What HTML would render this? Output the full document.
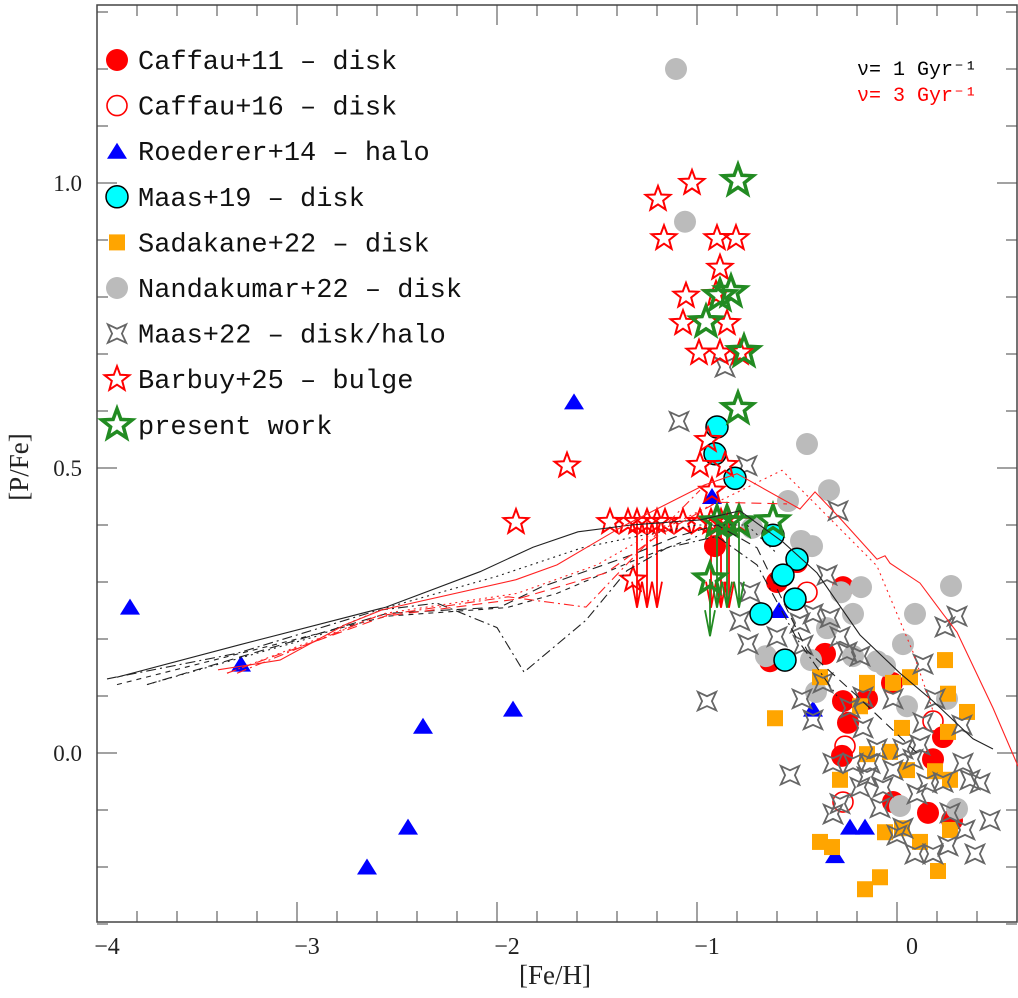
<!DOCTYPE html>
<html><head><meta charset="utf-8"><style>
body{margin:0;background:#fff}
svg{display:block}
text{font-family:"Liberation Serif",serif;fill:#222}
.leg{font-family:"Liberation Mono",monospace;font-size:27px;fill:#111}
</style></head><body>
<svg id="chart" width="1018" height="998" viewBox="0 0 1018 998" xmlns="http://www.w3.org/2000/svg">
<g id="axes"></g>
<g id="marks"></g>
<g id="models"></g>
<g id="legend"></g>
<text x="857" y="75" style="font-family:'Liberation Mono',monospace;font-size:20px;fill:#000">ν= 1 Gyr⁻¹</text>
<text x="857" y="101" style="font-family:'Liberation Mono',monospace;font-size:20px;fill:#f00">ν= 3 Gyr⁻¹</text>
<text x="555" y="984" text-anchor="middle" font-size="27">[Fe/H]</text>
<text transform="translate(28,467) rotate(-90)" text-anchor="middle" font-size="27">[P/Fe]</text>
</svg>
<script>
const xTicks=[-4,-3,-2,-1,0];
const xTickLabels=["−4","−3","−2","−1","0"];
const yTicks=[0,0.5,1.0];
const yTickLabels=["0.0","0.5","1.0"];
const caffau11=[[-0.91,0.363],[-0.60,0.300],[-0.27,0.291],[-0.36,0.174],[-0.635,0.161],[-0.025,0.123],[-0.27,0.091],[-0.245,0.053],[-0.15,0.095],[0.23,0.028],[0.18,-0.011],[-0.275,-0.005],[-0.02,-0.086],[0.155,-0.105],[0.275,-0.118],[-0.50,0.335]];
const caffau16=[[-0.45,0.282],[-0.26,0.012],[-0.27,-0.086],[0.18,0.056]];
const roederer=[[-3.835,0.256],[-3.28,0.156],[-2.37,0.047],[-1.92,0.077],[-1.615,0.616],[-2.445,-0.13],[-2.65,-0.2],[-0.925,0.45],[-0.59,0.25],[-0.42,0.077],[-0.235,-0.13],[-0.16,-0.13],[-0.31,-0.18]];
const nandakumar=[[-0.45,0.542],[-0.34,0.461],[-0.545,0.442],[-0.48,0.372],[-0.425,0.363],[-0.725,0.395],[-0.18,0.291],[0.27,0.293],[-0.28,0.282],[-0.22,0.244],[0.09,0.244],[0.03,0.191],[-0.655,0.170],[-0.43,0.163],[-0.22,0.170],[-0.10,0.161],[-0.06,0.153],[0.05,0.082],[0.25,0.095],[0.015,-0.093],[0.30,-0.098],[-0.405,0.107],[-0.35,0.219],[-1.105,1.2],[-1.06,0.932]];
const sadakane=[[-0.61,0.061],[-0.385,0.133],[0.24,0.163],[0.065,0.133],[-0.15,0.123],[-0.02,0.123],[0.255,0.104],[0.35,0.072],[-0.185,0.082],[-0.285,-0.047],[0.025,0.044],[0.255,0.037],[-0.15,-0.002],[-0.035,0.002],[0.19,-0.032],[0.265,-0.047],[0.05,-0.030],[-0.385,-0.156],[-0.325,-0.165],[-0.06,-0.139],[0.025,-0.132],[0.115,-0.156],[0.265,-0.135],[-0.085,-0.218],[-0.16,-0.239],[0.205,-0.207]];
const maas22=[[-0.86,0.677],[-1.09,0.582],[-0.75,0.504],[-0.295,0.425],[-0.35,0.312],[-0.735,0.282],[-0.785,0.232],[-0.60,0.204],[-0.745,0.191],[-0.485,0.228],[-0.42,0.244],[-0.335,0.237],[-0.285,0.204],[-0.47,0.189],[-0.25,0.177],[-0.185,0.170],[0.30,0.240],[0.24,0.221],[0.13,0.156],[-0.95,0.091],[-0.475,0.095],[-0.37,0.123],[-0.42,0.058],[-0.235,0.079],[-0.17,0.098],[-0.02,0.095],[0.19,0.095],[0.325,0.049],[0.13,0.053],[-0.17,0.044],[-0.32,-0.018],[-0.535,-0.039],[-0.15,-0.042],[-0.10,0.007],[-0.02,-0.030],[0.03,0.007],[0.08,-0.011],[0.15,-0.053],[0.23,-0.051],[0.365,-0.047],[0.415,-0.053],[0.33,-0.018],[-0.185,-0.060],[-0.285,-0.089],[-0.32,-0.107],[-0.085,-0.096],[0.10,-0.072],[0.265,-0.105],[0.34,-0.135],[0.03,-0.132],[0.465,-0.118],[0.39,-0.177],[0.18,-0.177],[0.09,-0.177],[0.255,-0.163],[0.0,-0.144],[-0.22,-0.018],[-0.135,-0.018],[-0.07,-0.060],[0.115,0.014]];
const maas19=[[-0.90,0.572],[-0.91,0.525],[-0.81,0.482],[-0.62,0.382],[-0.50,0.340],[-0.57,0.312],[-0.51,0.270],[-0.68,0.244],[-0.56,0.163]];
const barbuy=[[-1.195,0.972],[-1.025,1.0],[-1.165,0.903],[-0.90,0.903],[-0.805,0.903],[-1.055,0.802],[-0.885,0.851],[-1.07,0.754],[-0.905,0.805],[-0.99,0.702],[-0.885,0.702],[-0.785,0.702],[-0.85,0.754],[-1.65,0.504],[-1.905,0.405],[-0.945,0.549],[-0.985,0.505],[-0.86,0.505],[-0.925,0.46],[-1.435,0.405],[-1.345,0.405],[-1.16,0.405],[-1.07,0.405],[-0.985,0.405],[-0.785,0.405],[-1.32,0.304]];
const barbuyLimits=[[-1.30,0.405],[-1.25,0.405],[-1.20,0.405],[-0.93,0.405],[-0.88,0.405],[-0.84,0.405]];
const present=[[-0.795,1.004],[-0.885,0.802],[-0.83,0.809],[-0.955,0.756],[-0.765,0.704],[-0.795,0.604],[-0.62,0.407]];
const presentLimits=[[-0.90,0.405],[-0.85,0.405],[-0.79,0.405],[-0.935,0.305]];
const modelBlackSolid=[[-3.9,0.133],[-3.285,0.19],[-2.555,0.256],[-2.085,0.318],[-1.82,0.361],[-1.595,0.388],[-1.33,0.40],[-0.985,0.409],[-0.785,0.425],[-0.57,0.37],[-0.40,0.316],[-0.185,0.207],[0.015,0.14],[0.18,0.091],[0.38,0.025],[0.48,0.007]];
const modelBlackDotted=[[-3.75,0.12],[-2.9,0.205],[-2.55,0.255],[-2.0,0.31],[-1.575,0.36],[-1.3,0.38],[-1.0,0.40],[-0.75,0.40],[-0.6,0.35]];
const modelBlackDashed=[[-3.75,0.12],[-2.55,0.245],[-1.985,0.256],[-1.78,0.291],[-1.33,0.347],[-1.11,0.379],[-0.9,0.40],[-0.7,0.36],[-0.45,0.18],[-0.2,0.1],[0.1,0.0]];
const modelBlackDashed2=[[-3.9,0.12],[-2.55,0.24],[-1.95,0.255],[-1.7,0.28],[-1.3,0.34],[-1.0,0.38]];
const modelBlackDashDot=[[-3.95,0.13],[-3.3,0.175],[-2.6,0.25],[-2.3,0.263],[-2.0,0.22],[-1.865,0.142],[-1.555,0.233],[-1.35,0.32],[-1.15,0.36],[-0.9,0.38],[-0.7,0.33],[-0.5,0.2],[-0.3,0.1]];
const modelRedSolid=[[-3.395,0.146],[-3.085,0.163],[-2.76,0.225],[-2.575,0.251],[-1.905,0.304],[-1.70,0.33],[-1.555,0.36],[-1.375,0.397],[-0.965,0.47],[-0.8,0.49],[-0.485,0.428],[-0.41,0.458],[-0.285,0.412],[-0.10,0.34],[-0.06,0.346],[-0.035,0.333],[0.115,0.298],[0.23,0.244],[0.30,0.212],[0.48,0.079],[0.605,-0.023]];
const modelRedDotted=[[-3.35,0.14],[-2.56,0.245],[-1.9,0.28],[-1.5,0.33],[-1.3,0.37],[-0.9,0.44],[-0.575,0.496],[-0.10,0.328],[0.08,0.177],[0.18,0.074]];
const modelRedDashed=[[-3.35,0.14],[-2.56,0.24],[-1.9,0.27],[-1.455,0.316],[-1.2,0.38],[-0.9,0.44],[-0.55,0.437]];
const modelRedDashDot=[[-3.3,0.14],[-2.6,0.24],[-1.945,0.274],[-1.555,0.256],[-1.33,0.339],[-0.985,0.461]];

const NS="http://www.w3.org/2000/svg";
const X=v=>897+200*v, Y=v=>753-570*v;
const L=97,R=1017,T=5,B=922;
function mk(tag,parent,attrs){const e=document.createElementNS(NS,tag);for(const k in attrs)e.setAttribute(k,attrs[k]);parent.appendChild(e);return e;}
const axes=document.getElementById('axes');
const frame=mk('rect',axes,{x:L,y:T,width:R-L,height:B-T,fill:'none',stroke:'#444','stroke-width':1.5});


for(let i=0;i<=23;i++){const v=-4+i*0.2;const px=X(v);const major=Math.abs(v-Math.round(v))<1e-6;const len=major?20:11;
 const t1=mk('line',axes,{x1:px,x2:px,y1:B,y2:B-len,stroke:'#444','stroke-width':1});
 
 
 const t2=mk('line',axes,{x1:px,x2:px,y1:T,y2:T+len,stroke:'#444','stroke-width':1});
 
 }
for(let i=-3;i<=13;i++){const v=i*0.1;const py=Y(v);const major=i%5===0;const len=major?20:11;
 const t1=mk('line',axes,{x1:L,x2:L+len,y1:py,y2:py,stroke:'#444','stroke-width':1});
 
 
 const t2=mk('line',axes,{x1:R,x2:R-len,y1:py,y2:py,stroke:'#444','stroke-width':1});
 
 }
xTicks.forEach((v,i)=>{const t=mk('text',axes,{x:X(v)+(v<0?10:15),y:954,'text-anchor':'middle','font-size':24});t.textContent=xTickLabels[i];
 
 });
yTicks.forEach((v,i)=>{const t=mk('text',axes,{x:82,y:Y(v)+8,'text-anchor':'end','font-size':23});t.textContent=yTickLabels[i];
 
 });

function star5(cx,cy,r){let d='';for(let i=0;i<10;i++){const rr=i%2?r*0.42:r;const a=-Math.PI/2+i*Math.PI/5;d+=(i?'L':'M')+(cx+rr*Math.cos(a)).toFixed(1)+','+(cy+rr*Math.sin(a)).toFixed(1);}return d+'Z';}
function star4(cx,cy,r){let d='';for(let i=0;i<8;i++){const rr=i%2?r*0.38:r;const a=-Math.PI/4+i*Math.PI/4;d+=(i?'L':'M')+(cx+rr*Math.cos(a)).toFixed(1)+','+(cy+rr*Math.sin(a)).toFixed(1);}return d+'Z';}
function tri(cx,cy,s){return `M${cx},${cy-s*0.85}L${cx+s},${cy+s*0.75}L${cx-s},${cy+s*0.75}Z`;}
const marks=document.getElementById('marks');
const draw={
 caffau11:(g,x,y)=>mk('circle',g,{cx:x,cy:y,r:11,fill:'#f00'}),
 caffau16:(g,x,y)=>mk('circle',g,{cx:x,cy:y,r:10,fill:'none',stroke:'#f00','stroke-width':1.6}),
 roederer:(g,x,y)=>mk('path',g,{d:tri(x,y,10),fill:'#00f'}),
 nandakumar:(g,x,y)=>mk('circle',g,{cx:x,cy:y,r:11,fill:'#bbb'}),
 sadakane:(g,x,y)=>mk('rect',g,{x:x-8,y:y-8,width:16,height:16,fill:'#ffa500'}),
 maas22:(g,x,y)=>mk('path',g,{d:star4(x,y,13),fill:'none',stroke:'#666','stroke-width':1.8}),
 maas19:(g,x,y)=>mk('circle',g,{cx:x,cy:y,r:11,fill:'#0ff',stroke:'#000','stroke-width':1.5}),
 barbuy:(g,x,y)=>mk('path',g,{d:star5(x,y,13),fill:'none',stroke:'#f00','stroke-width':2}),
 present:(g,x,y)=>mk('path',g,{d:star5(x,y,16),fill:'none',stroke:'#228b22','stroke-width':3.5})
};
function series(name,data,key){const g=mk('g',marks,{});
 data.forEach(p=>{const e=draw[key](g,X(p[0]),Y(p[1]));
 
 });return g;}
function limits(name,data,key,color){const g=series(name+'-limit',data,key);
 data.forEach(p=>{const x=X(p[0]),y0=Y(p[1]),y1=Y(Math.min(p[1]-0.1,0.255));
 const a=mk('path',g,{d:`M${x},${y0}L${x},${y1}M${x-5},${y1-26}L${x},${y1}L${x+5},${y1-26}`,fill:'none',stroke:color,'stroke-width':1.8});
 
 });}
series('caffau11',caffau11,'caffau11');
series('caffau16',caffau16,'caffau16');
series('roederer14',roederer,'roederer');
series('nandakumar22',nandakumar,'nandakumar');
series('sadakane22',sadakane,'sadakane');
series('maas22',maas22,'maas22');
series('maas19',maas19,'maas19');
series('barbuy25',barbuy,'barbuy');
limits('barbuy25',barbuyLimits,'barbuy','#f00');
series('present-work',present,'present');
limits('present-work',presentLimits,'present','#228b22');

const models=document.getElementById('models');
function curve(name,data,color,dash){const d=data.map((p,i)=>(i?'L':'M')+X(p[0]).toFixed(1)+','+Y(p[1]).toFixed(1)).join('');
 const e=mk('path',models,{d:d,fill:'none',stroke:color,'stroke-width':1.1,'stroke-dasharray':dash||'none'});
 
 }
curve('model-black-solid',modelBlackSolid,'#222','');
curve('model-black-dotted',modelBlackDotted,'#222','2 4');
curve('model-black-dashed',modelBlackDashed,'#222','10 6');
curve('model-black-short-dashed',modelBlackDashed2,'#222','5 5');
curve('model-black-dash-dot',modelBlackDashDot,'#222','10 4 2 4');
curve('model-red-solid',modelRedSolid,'#f22','');
curve('model-red-dotted',modelRedDotted,'#f22','2 4');
curve('model-red-dashed',modelRedDashed,'#f22','10 6');
curve('model-red-dash-dot',modelRedDashDot,'#f22','10 4 2 4');

const legendItems=[["Caffau+11 – disk","caffau11"],["Caffau+16 – disk","caffau16"],["Roederer+14 – halo","roederer"],["Maas+19 – disk","maas19"],["Sadakane+22 – disk","sadakane"],["Nandakumar+22 – disk","nandakumar"],["Maas+22 – disk/halo","maas22"],["Barbuy+25 – bulge","barbuy"],["present work","present"]];
const leg=document.getElementById('legend');
legendItems.forEach((it,i)=>{const y=60+i*45.6;const g=mk('g',leg,{});
 
 
 const m=draw[it[1]](g,117,y);
 
 
 const t=mk('text',g,{x:138,y:y+9,class:'leg'});t.textContent=it[0];
 
 });
</script>
</body></html>
